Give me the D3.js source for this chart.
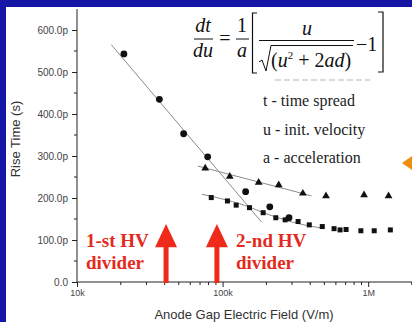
<!DOCTYPE html>
<html><head><meta charset="utf-8">
<script src="https://cdn.jsdelivr.net/npm/d3@7"></script>
<style>body{margin:0;background:#fff;overflow:hidden}svg{display:block}</style>
</head><body>
<script>
// ---- data ----
const yTicks = [0, 100, 200, 300, 400, 500, 600];
const yTickLabels = ["0.0", "100.0p", "200.0p", "300.0p", "400.0p", "500.0p", "600.0p"];
const xTicks = [1e4, 1e5, 1e6];
const xTickLabels = ["10k", "100k", "1M"];

const circleX = [21e3, 36.8e3, 54e3, 79e3, 144e3, 211e3, 286e3];
const circleY = [543, 435, 353, 298, 215, 179, 153];
const triangleX = [76e3, 112e3, 177e3, 243e3, 356e3, 513e3, 937e3, 1.38e6];
const triangleY = [271, 251, 237, 231, 211, 205, 207, 205];
const squareX = [83.6e3, 108e3, 124e3, 153e3, 190e3, 232e3, 269e3, 330e3, 394e3, 484e3, 583e3, 641e3, 705e3, 891e3, 1.10e6, 1.42e6];
const squareY = [201, 193, 183, 177, 165, 153, 148, 144, 136, 132, 127, 124, 125, 122, 122, 124];

const circleFitX = [17.2e3, 185e3];
const circleFitY = [565, 143];
const triangleFitX = [67.6e3, 409e3];
const triangleFitY = [276, 205];
const squareFitX = [71.9e3, 107e3, 154.5e3, 190.7e3, 235.8e3, 306.6e3, 399.4e3, 493e3];
const squareFitY = [209, 195, 178, 165, 154, 142, 133, 128];

const dividerX = [40.9e3, 91.4e3];
const dividerLabels = [["1-st HV", "divider"], ["2-nd HV", "divider"]];
const legendLines = ["t - time spread", "u - init. velocity", "a - acceleration"];

// ---- drawing ----
const W = 412, H = 322;
const svg = d3.select("body").append("svg").attr("width", W).attr("height", H);
svg.append("rect").attr("width", W).attr("height", H).attr("fill", "#fff");
// blue slide frame (top & left)
svg.append("rect").attr("x", 0).attr("y", 0).attr("width", W).attr("height", 7).attr("fill", "#1616a6");
svg.append("rect").attr("x", 0).attr("y", 0).attr("width", 6).attr("height", H).attr("fill", "#1616a6");

const x = d3.scaleLog().domain([1e4, 2e6]).range([77, 412]);
const y = d3.scaleLinear().domain([0, 650]).range([282, 9]);

const sans = "'Liberation Sans', Arial, sans-serif";
const serif = "'Liberation Serif', 'Times New Roman', serif";

// y axis
const yAxis = d3.axisLeft(y).tickValues(yTicks).tickFormat((d, i) => yTickLabels[i]).tickSize(5).tickPadding(4);
const gy = svg.append("g").attr("transform", "translate(77,0)").call(yAxis);
gy.select(".domain").attr("stroke", "#222").attr("d", `M0,${y(650)}V${y(0)}`);
gy.selectAll(".tick line").attr("stroke", "#222");
gy.selectAll("text").attr("font-family", sans).attr("font-size", 10).attr("fill", "#444");
// y minor ticks
const yMinor = d3.range(50, 650, 100);
gy.selectAll(".ymin").data(yMinor).join("line").attr("class", "ymin")
  .attr("x1", -3).attr("x2", 0).attr("y1", d => y(d)).attr("y2", d => y(d)).attr("stroke", "#222");

// x axis
const xAxis = d3.axisBottom(x).tickValues(xTicks).tickFormat((d, i) => xTickLabels[i]).tickSize(5).tickPadding(3);
const gx = svg.append("g").attr("transform", "translate(0,282)").call(xAxis);
gx.select(".domain").attr("stroke", "#222").attr("d", `M${x(1e4)},0H${W}`);
gx.selectAll(".tick line").attr("stroke", "#222");
gx.selectAll("text").attr("font-family", sans).attr("font-size", 9).attr("fill", "#444");
const xMinor = [];
[1e4, 1e5, 1e6].forEach(b => { for (let k = 2; k <= 9; k++) if (b * k <= 2e6) xMinor.push(b * k); });
xMinor.push(2e6);
gx.selectAll(".xmin").data(xMinor).join("line").attr("class", "xmin")
  .attr("x1", d => x(d)).attr("x2", d => x(d)).attr("y1", 0).attr("y2", 3).attr("stroke", "#222");

// axis titles
svg.append("text").attr("x", 244).attr("y", 319).attr("text-anchor", "middle")
  .attr("font-family", sans).attr("font-size", 13).attr("fill", "#333").text("Anode Gap Electric Field (V/m)");
svg.append("text").attr("transform", "translate(20,139) rotate(-90)").attr("text-anchor", "middle")
  .attr("font-family", sans).attr("font-size", 13).attr("fill", "#333").text("Rise Time (s)");

// fit lines
const line = d3.line().x(d => x(d[0])).y(d => y(d[1]));
const fitStyle = sel => sel.attr("fill", "none").attr("stroke", "#8a8a8a").attr("stroke-width", 1);
svg.append("path").datum(circleFitX.map((v, i) => [v, circleFitY[i]])).attr("d", line).call(fitStyle);
svg.append("path").datum(triangleFitX.map((v, i) => [v, triangleFitY[i]])).attr("d", line).call(fitStyle);
svg.append("path").datum(squareFitX.map((v, i) => [v, squareFitY[i]])).attr("d", line.curve(d3.curveMonotoneX)).call(fitStyle);

// markers
const mark = "#111";
svg.selectAll(".c").data(circleX.map((v, i) => [v, circleY[i]])).join("circle")
  .attr("cx", d => x(d[0])).attr("cy", d => y(d[1])).attr("r", 3.4).attr("fill", mark);
const tri = d3.symbol().type(d3.symbolTriangle).size(26);
svg.selectAll(".t").data(triangleX.map((v, i) => [v, triangleY[i]])).join("path")
  .attr("transform", d => `translate(${x(d[0])},${y(d[1])})`).attr("d", tri).attr("fill", mark);
svg.selectAll(".s").data(squareX.map((v, i) => [v, squareY[i]])).join("rect")
  .attr("x", d => x(d[0]) - 2.5).attr("y", d => y(d[1]) - 2.5).attr("width", 5).attr("height", 5).attr("fill", mark);

// HV divider arrows and labels
const red = "#ee2a1a";
dividerX.forEach(v => {
  const cx = x(v), tip = y(138), base = y(83), bottom = y(0) + 1;
  svg.append("rect").attr("x", cx - 2.5).attr("y", base - 1).attr("width", 5).attr("height", bottom - base + 1).attr("fill", red);
  svg.append("path").attr("d", `M${cx},${tip}L${cx + 11},${base}L${cx - 11},${base}Z`).attr("fill", red);
});
const labelPos = [86, 236];
dividerLabels.forEach((lines, i) => {
  lines.forEach((t, j) => {
    svg.append("text").attr("x", labelPos[i]).attr("y", 247 + j * 22)
      .attr("font-family", serif).attr("font-weight", "bold").attr("font-size", 19).attr("fill", "#e42a20").text(t);
  });
});

// formula
const f = svg.append("g").attr("font-family", serif).attr("font-size", 20).attr("fill", "#111");
f.append("text").attr("x", 203).attr("y", 32).attr("text-anchor", "middle").attr("font-style", "italic").text("dt");
f.append("line").attr("x1", 194).attr("x2", 213).attr("y1", 39).attr("y2", 39).attr("stroke", "#111");
f.append("text").attr("x", 203).attr("y", 57).attr("text-anchor", "middle").attr("font-style", "italic").text("du");
f.append("text").attr("x", 225).attr("y", 45).attr("text-anchor", "middle").text("=");
f.append("text").attr("x", 242).attr("y", 32).attr("text-anchor", "middle").text("1");
f.append("line").attr("x1", 236).attr("x2", 249).attr("y1", 39).attr("y2", 39).attr("stroke", "#111");
f.append("text").attr("x", 242).attr("y", 57).attr("text-anchor", "middle").attr("font-style", "italic").text("a");
f.append("path").attr("d", "M257,13H252.5V73H257").attr("fill", "none").attr("stroke", "#111").attr("stroke-width", 1.2);
f.append("text").attr("x", 307).attr("y", 35).attr("text-anchor", "middle").attr("font-style", "italic").text("u");
f.append("line").attr("x1", 259).attr("x2", 354).attr("y1", 40.5).attr("y2", 40.5).attr("stroke", "#111");
f.append("path").attr("d", "M259,62L262,60L266,71L271,45.5H353").attr("fill", "none").attr("stroke", "#111").attr("stroke-width", 1);
const den = f.append("text").attr("x", 271).attr("y", 67);
den.append("tspan").text("(");
den.append("tspan").attr("font-style", "italic").text("u");
den.append("tspan").attr("font-size", 11).attr("dy", -8).text("2");
den.append("tspan").attr("dy", 8).text(" + 2");
den.append("tspan").attr("font-style", "italic").text("ad");
den.append("tspan").text(")");
f.append("text").attr("x", 356).attr("y", 51).text("\u22121");
f.append("path").attr("d", "M378,12H383V72H378").attr("fill", "none").attr("stroke", "#111").attr("stroke-width", 1.2);

// faint remnant line under formula
svg.append("line").attr("x1", 275).attr("x2", 370).attr("y1", 80).attr("y2", 80)
  .attr("stroke", "#cfcfcf").attr("stroke-width", 1.5).attr("stroke-dasharray", "6,3");

// legend text
legendLines.forEach((t, i) => {
  svg.append("text").attr("x", 263).attr("y", 106 + i * 28.5).attr("font-family", serif)
    .attr("font-size", 16).attr("fill", "#222").text(t);
});

// orange pointer at right edge
svg.append("path").attr("d", "M402,163L412,156L412,170Z").attr("fill", "#f08c10");
</script>
</body></html>
